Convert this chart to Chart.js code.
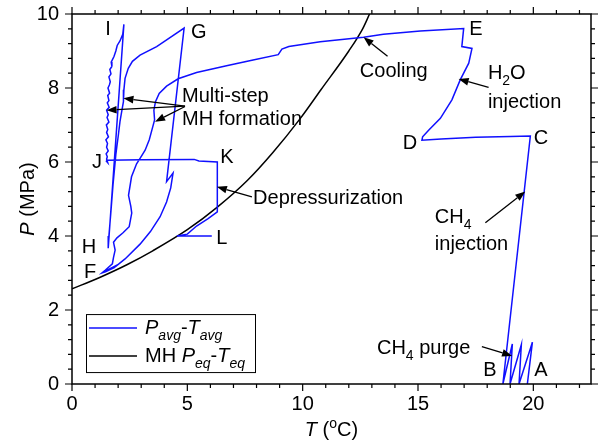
<!DOCTYPE html>
<html>
<head>
<meta charset="utf-8">
<script src="https://cdn.jsdelivr.net/npm/chart.js@4.4.1/dist/chart.umd.min.js"></script>
<style>
  html, body { margin: 0; padding: 0; background: #fff; }
  #wrap { width: 602px; height: 443px; }
</style>
</head>
<body>
<div id="wrap"><canvas id="grafico" width="602" height="443"></canvas></div>
<script>
// Pavg-Tavg path in time order: A -> purge -> B -> C -> D -> E -> F -> G -> H -> I -> J -> K -> L
const tAvg = [
  19.74, 19.96, 19.38, 19.48, 18.99, 19.09, 18.68,
  19.87,
  19.0, 17.5, 16.0, 15.17,
  15.2, 15.46, 15.97, 16.47, 16.83, 17.2, 17.34, 16.9, 16.98,
  15.1, 13.5, 12.64, 10.76, 9.4, 9.1, 8.94, 7.8, 6.7, 5.4, 4.6, 4.1, 3.78, 3.62, 3.55, 3.58, 3.5,
  3.35, 3.17, 2.95, 2.8, 2.58, 2.45, 2.55, 2.59, 2.48, 2.2, 1.95, 1.8, 1.87, 1.8, 1.75,
  1.45, 1.3, 1.45, 1.85, 1.9, 1.5, 1.35, 1.9,
  2.3, 2.95, 3.4, 3.82, 4.1, 4.28, 4.38, 4.1, 4.86,
  3.67, 2.95, 2.62, 2.44, 2.3, 2.25, 2.23, 2.15, 2.08, 2.01, 1.9, 1.78, 1.68, 1.6, 1.57,
  2.25,
  2.2, 2.08, 1.96, 1.9, 1.82, 1.7, 1.73, 1.64, 1.69, 1.6, 1.66, 1.62, 1.56, 1.63, 1.55, 1.6,
  1.53, 1.61, 1.5, 1.57, 1.52, 1.6, 1.49, 1.55, 1.5, 1.58, 1.47, 1.54, 1.5, 1.57, 1.48, 1.53, 1.5,
  1.55, 1.49, 1.52,
  3.0, 5.3, 5.5, 6.3,
  6.3, 5.9, 5.4, 5.0, 4.55, 6.06
];
const pAvg = [
  0.0, 1.13, 0.0, 1.06, 0.0, 1.08, 0.0,
  6.7,
  6.69, 6.67, 6.62, 6.59,
  6.68, 6.86, 7.18, 7.68, 8.22, 8.67, 9.07, 9.12, 9.61,
  9.54, 9.45, 9.37, 9.25, 9.12, 9.05, 8.9, 8.75, 8.6, 8.42, 8.25, 8.05, 7.85, 7.63, 7.4, 7.14, 6.95,
  6.6, 6.32, 6.1, 5.95, 5.6, 5.1, 4.8, 4.62, 4.25, 4.08, 3.95, 3.83, 3.62, 3.42, 3.25,
  3.08, 3.0, 3.03, 3.15, 3.2, 3.07, 3.02, 3.18,
  3.38, 3.78, 4.12, 4.52, 4.92, 5.3, 5.7, 5.47, 9.62,
  9.12, 8.89, 8.72, 8.53, 8.26, 7.95, 7.63, 7.35, 7.09, 6.73, 6.2, 5.4, 4.6, 4.0, 3.67,
  9.72,
  9.45, 9.27, 9.15, 9.0, 8.85, 8.7, 8.58, 8.5, 8.38, 8.3, 8.17, 8.08, 8.0, 7.86, 7.8, 7.66,
  7.6, 7.48, 7.4, 7.28, 7.2, 7.08, 7.0, 6.88, 6.8, 6.68, 6.6, 6.5, 6.4, 6.3, 6.22, 6.14, 6.08,
  5.98, 6.02, 6.05,
  6.06, 6.07, 6.03, 6.0,
  4.65, 4.47, 4.27, 4.05, 4.0, 4.0
];
// MH equilibrium curve
const tEq = [0, 1.2, 2.4, 3.5, 5.0, 6.3, 7.6, 8.7, 9.9, 10.8, 12.0, 12.6, 12.9];
const pEq = [2.57, 2.88, 3.23, 3.6, 4.17, 4.78, 5.5, 6.25, 7.18, 7.96, 9.0, 9.6, 10.0];

const xTicks = [0, 5, 10, 15, 20];
const yTicks = [0, 2, 4, 6, 8, 10];
const xMinor = [1, 2, 3, 4, 6, 7, 8, 9, 11, 12, 13, 14, 16, 17, 18, 19, 21, 22];
const yMinor = [0.4, 0.8, 1.2, 1.6, 2.4, 2.8, 3.2, 3.6, 4.4, 4.8, 5.2, 5.6, 6.4, 6.8, 7.2, 7.6, 8.4, 8.8, 9.2, 9.6];

// annotation texts: [T, P, align, segments]
const notes = [
  [1.56, 9.62, 'center', [{t: 'I'}]],
  [5.5, 9.54, 'center', [{t: 'G'}]],
  [1.08, 6.03, 'center', [{t: 'J'}]],
  [6.72, 6.16, 'center', [{t: 'K'}]],
  [0.74, 3.73, 'center', [{t: 'H'}]],
  [0.78, 3.05, 'center', [{t: 'F'}]],
  [6.5, 3.97, 'center', [{t: 'L'}]],
  [17.51, 9.62, 'center', [{t: 'E'}]],
  [14.65, 6.54, 'center', [{t: 'D'}]],
  [20.33, 6.68, 'center', [{t: 'C'}]],
  [18.12, 0.41, 'center', [{t: 'B'}]],
  [20.33, 0.41, 'center', [{t: 'A'}]],
  [12.48, 8.49, 'left', [{t: 'Cooling'}]],
  [18.03, 8.43, 'left', [{t: 'H'}, {t: '2', sub: true}, {t: 'O'}]],
  [18.03, 7.65, 'left', [{t: 'injection'}]],
  [15.73, 4.54, 'left', [{t: 'CH'}, {t: '4', sub: true}]],
  [15.73, 3.81, 'left', [{t: 'injection'}]],
  [13.22, 1.0, 'left', [{t: 'CH'}, {t: '4', sub: true}, {t: ' purge'}]],
  [7.85, 5.05, 'left', [{t: 'Depressurization'}]],
  [4.77, 7.81, 'left', [{t: 'Multi-step'}]],
  [4.77, 7.19, 'left', [{t: 'MH formation'}]]
];
// arrows: [tailT, tailP, headT, headP]
const arrows = [
  [13.68, 8.86, 12.64, 9.37],
  [18.06, 8.02, 16.76, 8.24],
  [17.92, 4.36, 19.65, 5.2],
  [17.77, 1.01, 19.08, 0.76],
  [7.8, 5.06, 6.28, 5.33],
  [4.9, 7.51, 2.23, 7.72],
  [4.9, 7.51, 1.5, 7.4],
  [4.9, 7.5, 3.6, 7.09]
];

const FONT = '"Liberation Sans", Arial, sans-serif';
const BLUE = '#1010ff';
const SIZE = 20;

function fontFor(s, size) {
  const sz = (s.sub || s.sup) ? Math.round(size * 0.7) : size;
  return (s.it ? 'italic ' : '') + sz + 'px ' + FONT;
}

function drawRich(ctx, segs, x, y, size, align) {
  let w = 0;
  segs.forEach(s => { ctx.font = fontFor(s, size); w += ctx.measureText(s.t).width; });
  let cx = align === 'center' ? x - w / 2 : x;
  ctx.textAlign = 'left';
  ctx.textBaseline = 'alphabetic';
  segs.forEach(s => {
    ctx.font = fontFor(s, size);
    const dy = s.sub ? size * 0.3 : (s.sup ? -size * 0.42 : 0);
    ctx.fillText(s.t, cx, y + dy);
    cx += ctx.measureText(s.t).width;
  });
}

const framePlugin = {
  id: 'frame',
  afterDraw(chart) {
    const ctx = chart.ctx;
    const a = chart.chartArea;
    const xs = chart.scales.x, ys = chart.scales.y;
    ctx.save();
    ctx.strokeStyle = '#000';
    ctx.lineWidth = 1.5;
    ctx.strokeRect(a.left, a.top, a.right - a.left, a.bottom - a.top);
    ctx.lineWidth = 1.2;
    ctx.beginPath();
    const xt = (v, len) => {
      const px = xs.getPixelForValue(v);
      ctx.moveTo(px, a.bottom); ctx.lineTo(px, a.bottom + len);
      ctx.moveTo(px, a.top); ctx.lineTo(px, a.top - len);
    };
    const yt = (v, len) => {
      const py = ys.getPixelForValue(v);
      ctx.moveTo(a.left, py); ctx.lineTo(a.left - len, py);
      ctx.moveTo(a.right, py); ctx.lineTo(a.right + len, py);
    };
    xTicks.forEach(v => xt(v, 7));
    xMinor.forEach(v => xt(v, 4));
    yTicks.forEach(v => yt(v, 7));
    yMinor.forEach(v => yt(v, 4));
    ctx.stroke();
    ctx.restore();
  }
};

const notesPlugin = {
  id: 'notes',
  afterDraw(chart) {
    const ctx = chart.ctx;
    const xs = chart.scales.x, ys = chart.scales.y;
    const a = chart.chartArea;
    ctx.save();
    ctx.fillStyle = '#000';
    notes.forEach(n => {
      const px = xs.getPixelForValue(n[0]);
      const py = ys.getPixelForValue(n[1]);
      drawRich(ctx, n[3], px, py + SIZE * 0.36, SIZE, n[2]);
    });

    // arrows
    ctx.strokeStyle = '#000';
    ctx.lineWidth = 1.3;
    arrows.forEach(r => {
      const x0 = xs.getPixelForValue(r[0]), y0 = ys.getPixelForValue(r[1]);
      const x1 = xs.getPixelForValue(r[2]), y1 = ys.getPixelForValue(r[3]);
      const ang = Math.atan2(y1 - y0, x1 - x0);
      const L = 10, W = 3.8;
      const bx = x1 - L * Math.cos(ang), by = y1 - L * Math.sin(ang);
      ctx.beginPath();
      ctx.moveTo(x0, y0); ctx.lineTo(bx, by);
      ctx.stroke();
      ctx.beginPath();
      ctx.moveTo(x1, y1);
      ctx.lineTo(bx + W * Math.sin(ang), by - W * Math.cos(ang));
      ctx.lineTo(bx - W * Math.sin(ang), by + W * Math.cos(ang));
      ctx.closePath();
      ctx.fill();
    });

    // legend
    const lx = a.left + 14, ly = ys.getPixelForValue(1.89);
    const lw = 169, lh = 58;
    ctx.fillStyle = '#fff';
    ctx.fillRect(lx, ly, lw, lh);
    ctx.lineWidth = 1;
    ctx.strokeRect(lx + 0.5, ly + 0.5, lw, lh);
    ctx.lineWidth = 1.5;
    ctx.strokeStyle = BLUE;
    ctx.beginPath(); ctx.moveTo(lx + 3, ly + 14); ctx.lineTo(lx + 51, ly + 14); ctx.stroke();
    ctx.strokeStyle = '#000';
    ctx.beginPath(); ctx.moveTo(lx + 3, ly + 42); ctx.lineTo(lx + 51, ly + 42); ctx.stroke();
    ctx.fillStyle = '#000';
    drawRich(ctx, [{t: 'P', it: true}, {t: 'avg', it: true, sub: true}, {t: '-'}, {t: 'T', it: true}, {t: 'avg', it: true, sub: true}],
      lx + 59, ly + 20, SIZE, 'left');
    drawRich(ctx, [{t: 'MH '}, {t: 'P', it: true}, {t: 'eq', it: true, sub: true}, {t: '-'}, {t: 'T', it: true}, {t: 'eq', it: true, sub: true}],
      lx + 59, ly + 48, SIZE, 'left');

    // axis titles
    drawRich(ctx, [{t: 'T', it: true}, {t: ' ('}, {t: 'o', sup: true}, {t: 'C)'}],
      (a.left + a.right) / 2, 436, SIZE, 'center');
    ctx.save();
    ctx.translate(34, (a.top + a.bottom) / 2);
    ctx.rotate(-Math.PI / 2);
    drawRich(ctx, [{t: 'P', it: true}, {t: ' (MPa)'}], 0, 0, SIZE, 'center');
    ctx.restore();
    ctx.restore();
  }
};

const toPoints = (xs, ys) => xs.map((x, i) => ({ x: x, y: ys[i] }));

const ctx = document.getElementById('grafico').getContext('2d');
const chart = new Chart(ctx, {
  type: 'scatter',
  data: {
    datasets: [
      {
        label: 'Pavg-Tavg',
        data: toPoints(tAvg, pAvg),
        showLine: true,
        borderColor: BLUE,
        borderWidth: 1.5,
        pointRadius: 0,
        tension: 0
      },
      {
        label: 'MH Peq-Teq',
        data: toPoints(tEq, pEq),
        showLine: true,
        borderColor: '#000',
        borderWidth: 1.5,
        pointRadius: 0,
        cubicInterpolationMode: 'monotone'
      }
    ]
  },
  options: {
    responsive: false,
    animation: false,
    layout: { padding: { top: 14, right: 11, left: 0, bottom: 0 } },
    plugins: {
      legend: { display: false },
      tooltip: { enabled: false }
    },
    scales: {
      x: {
        type: 'linear',
        min: 0,
        max: 22.5,
        grid: { display: false, drawTicks: false },
        border: { display: false },
        afterBuildTicks: s => { s.ticks = xTicks.map(v => ({ value: v })); },
        afterFit: s => { s.height = 59; s.paddingLeft = 0; s.paddingRight = 0; },
        ticks: { padding: 8, color: '#000', maxRotation: 0, font: { family: FONT, size: SIZE } }
      },
      y: {
        type: 'linear',
        min: 0,
        max: 10,
        grid: { display: false, drawTicks: false },
        border: { display: false },
        afterBuildTicks: s => { s.ticks = yTicks.map(v => ({ value: v })); },
        afterFit: s => { s.width = 72; s.paddingTop = 0; s.paddingBottom = 0; },
        ticks: { padding: 13, color: '#000', font: { family: FONT, size: SIZE } }
      }
    }
  },
  plugins: [framePlugin, notesPlugin]
});
</script>
</body>
</html>
